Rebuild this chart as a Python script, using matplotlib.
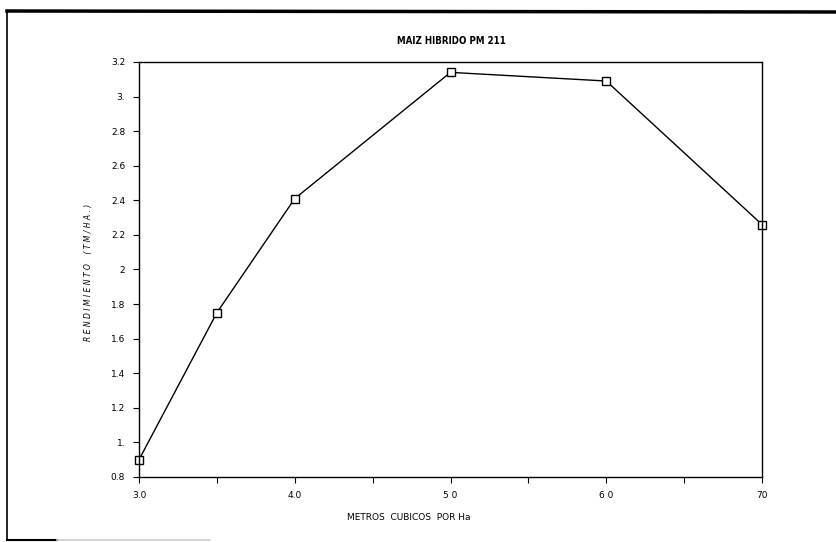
import matplotlib
matplotlib.use("Agg")
import matplotlib.pyplot as plt
from matplotlib.lines import Line2D

x_vals = [3.0, 3.5, 4.0, 5.0, 6.0, 7.0]
y_vals = [0.90, 1.75, 2.41, 3.14, 3.09, 2.26]
x_ticks = [3.0, 3.5, 4.0, 4.5, 5.0, 5.5, 6.0, 6.5, 7.0]
x_tick_labels = ["3.0", "", "4.0", "", "5 0", "", "6 0", "", "70"]
y_ticks = [0.8, 1.0, 1.2, 1.4, 1.6, 1.8, 2.0, 2.2, 2.4, 2.6, 2.8, 3.0, 3.2]
y_tick_labels = ["0.8", "1.", "1.2", "1.4", "1.6", "1.8", "2", "2.2", "2.4", "2.6", "2.8", "3.", "3.2"]
title = "MAIZ HIBRIDO PM 211"
xlabel = "METROS  CUBICOS  POR Ha"
ylabel = "R E N D I M I E N T O    ( T M / H A . )"

W, H = 836, 542
fig = plt.figure(figsize=(W / 100, H / 100), dpi=100)
fig.patch.set_facecolor("white")

left, right, top, bottom = 139, 762, 62, 477
ax = fig.add_axes([left / W, 1 - bottom / H, (right - left) / W, (bottom - top) / H])
ax.plot(x_vals, y_vals, color="black", lw=1.0, marker="s", markersize=6,
        markerfacecolor="white", markeredgecolor="black", markeredgewidth=1.0, clip_on=False)
ax.set_xlim(3.0, 7.0)
ax.set_ylim(0.8, 3.2)
ax.set_xticks(x_ticks)
ax.set_xticklabels(x_tick_labels)
ax.set_yticks(y_ticks)
ax.set_yticklabels(y_tick_labels)
ax.tick_params(direction="out", length=4, width=0.8, labelsize=6.5, pad=6)
for s in ax.spines.values():
    s.set_linewidth(1.0)

fig.text(451 / W, 1 - 41 / H, title, ha="center", va="center", fontsize=7, fontweight="semibold",
         fontstretch="condensed")
fig.text(409 / W, 1 - 517 / H, xlabel, ha="center", va="center", fontsize=6.5)
fig.text(88 / W, 1 - 272 / H, ylabel, ha="center", va="center", fontsize=5.5,
         rotation=90, style="italic")

# page frame lines
fig.add_artist(Line2D([7 / W, 1.0], [1 - 11 / H, 1 - 12 / H], color="black", lw=2.5,
                      transform=fig.transFigure))
fig.add_artist(Line2D([7 / W, 7 / W], [1 - 11 / H, 1 - 540 / H], color="black", lw=1.2,
                      transform=fig.transFigure))
fig.add_artist(Line2D([7 / W, 57 / W], [1 - 540 / H, 1 - 540 / H], color="black", lw=1.5,
                      transform=fig.transFigure))
fig.add_artist(Line2D([57 / W, 210 / W], [1 - 540 / H, 1 - 540 / H], color="#cccccc", lw=1.2,
                      transform=fig.transFigure))

fig.savefig("out.png", dpi=100, facecolor="white")
